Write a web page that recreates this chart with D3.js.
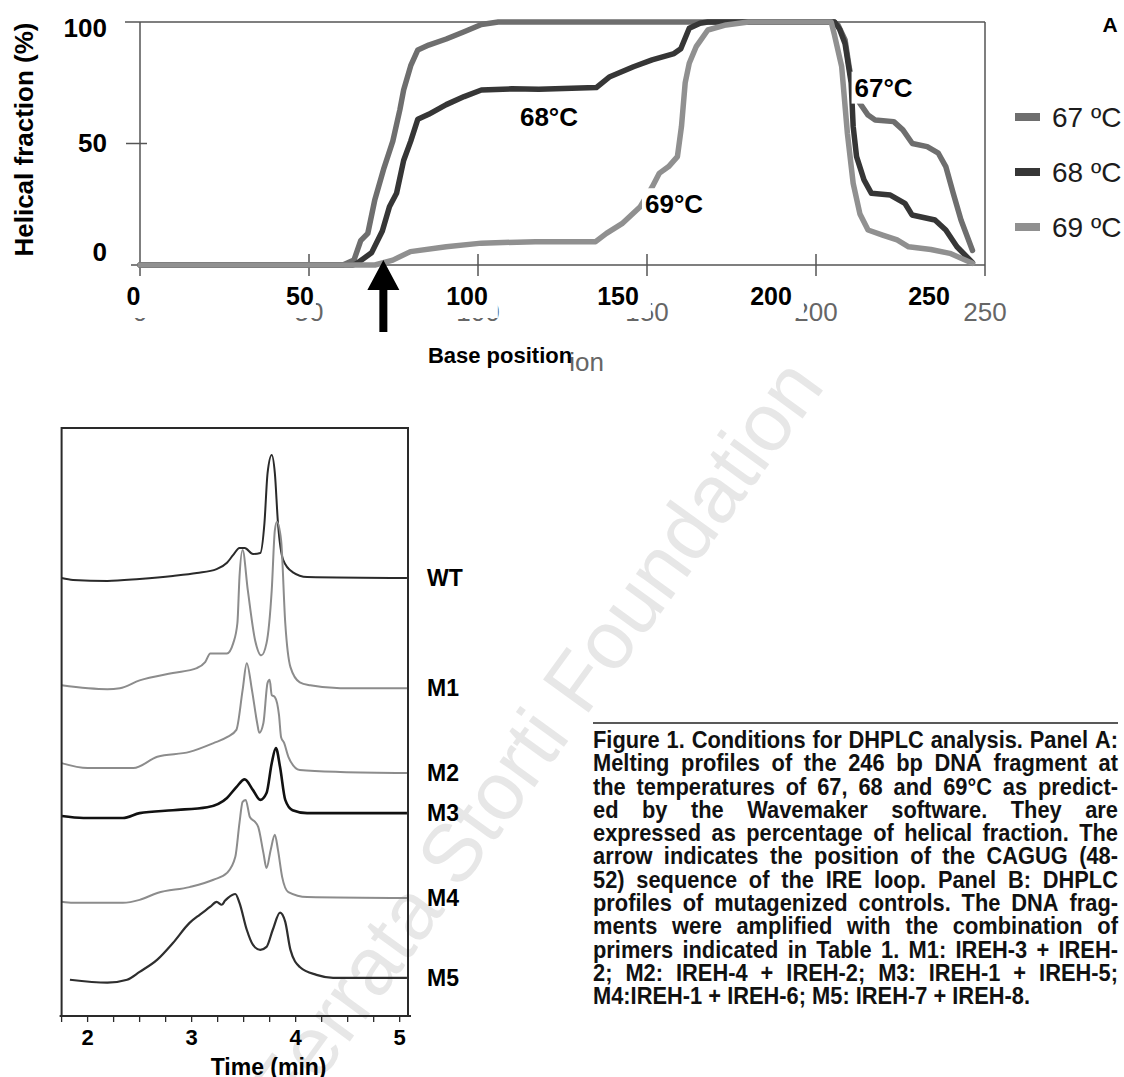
<!DOCTYPE html>
<html><head><meta charset="utf-8">
<script src="https://cdn.jsdelivr.net/npm/d3@7"></script>
<style>body{margin:0;background:#fff}svg{display:block}</style>
</head><body>
<svg id="c" width="1124" height="1077"></svg>
<script>
// ---------------- DATA ----------------
// Panel A: melting profiles (base position, helical fraction %)
const basePositionTicks = [0, 50, 100, 150, 200, 250];
const helicalTicks = [0, 50, 100];
const meltSeriesNames = ["67 ºC", "68 ºC", "69 ºC"];
const meltCurveLabels = ["67°C", "68°C", "69°C"];
const melt67 = [[0,0],[60,0],[63.3,2],[65.3,10],[67.4,13],[69.5,27],[72.2,40],[74.8,51],[76.9,64],[78,72],[80.1,82],[82.2,88.5],[85.4,90.5],[90.6,93],[95.9,96],[101,99],[106,100],[205.4,100],[206.5,98.8],[208.6,92.6],[209.8,81.6],[211,72],[213,66.5],[215.4,61.7],[217.5,59.7],[223,59],[225.7,55.6],[228.5,50],[232.9,48.7],[236.2,46],[238.4,40.5],[240.6,29.5],[242.9,18.5],[246.3,6]];
const melt68 = [[0,0],[63,0],[64,0.5],[68.5,5],[71.7,14],[73.8,24],[75.9,29.5],[78,43],[80.1,51],[82.2,60],[85.4,62],[90.6,66],[95.9,69.3],[101,72],[110,72.5],[118,72.3],[135,73],[139,77.5],[146,81.6],[151.5,84.4],[158,87],[160,89],[162.5,97.4],[165.7,99.5],[168,100],[205.5,100],[207,97],[208.6,91],[210.4,75],[211,57],[212,44.6],[214.2,35],[216.4,29.5],[222,28.8],[226.3,25.4],[228.4,20.6],[235.2,18.5],[238.4,14.4],[241.7,7.5],[246.3,1]];
const melt69 = [[0,0],[69.5,0],[74.8,2],[80,5.5],[90.6,7.5],[101,9],[117,9.6],[134.8,9.6],[138,13],[142.6,17],[148,24],[151.5,32],[153.6,37.7],[156.4,40.5],[159,44.6],[160.2,57],[161.3,75],[162.5,83],[164.6,90],[168,96.7],[173.4,98.8],[180,100],[204.5,100],[205.4,95],[207.6,81.6],[209.3,54],[211,33.6],[213,21],[215.4,14.4],[219.7,12.3],[224,10.3],[227.4,7.5],[234,6.4],[239.6,4.8],[246.3,0.7]];
// annotation anchors (base position, helical %)
const curveLabelAnchors = [[220,73],[121,61],[158,25]];
const arrowBasePosition = 72;

// Panel B: DHPLC profiles (time in min, signal a.u. above own baseline)
const timeTicks = [2, 3, 4, 5];
const traceNames = ["WT", "M1", "M2", "M3", "M4", "M5"];
const traceOffsets = [89.4, 66.9, 49.6, 41.4, 24.1, 7.8];
const traceWT = [[1.75,0],[1.86,-0.4],[2.19,-0.6],[2.5,-0.2],[2.82,0.4],[3.05,1.0],[3.24,1.8],[3.34,3.1],[3.4,4.7],[3.46,6.1],[3.51,6.1],[3.59,4.9],[3.66,5.1],[3.7,11.2],[3.73,21.4],[3.77,25.1],[3.8,21.4],[3.83,11.2],[3.88,3.7],[3.97,1.2],[4.11,0.2],[5.07,0]];
const traceM1 = [[1.75,0.6],[2.19,-0.2],[2.31,0],[2.5,1.6],[2.82,3.1],[3.05,4.1],[3.13,5.3],[3.18,7.1],[3.34,7.1],[3.4,9.2],[3.44,13.3],[3.46,22.7],[3.49,28.2],[3.54,20],[3.61,9.8],[3.67,6.7],[3.72,9.2],[3.77,20],[3.8,32.2],[3.82,33.9],[3.86,30.2],[3.9,13.3],[3.95,4.3],[4.04,1.2],[4.14,0.6],[4.43,0],[5.07,0]];
const traceM2 = [[1.75,2.0],[2.0,1.0],[2.44,1.0],[2.67,3.3],[2.98,4.3],[3.21,6.1],[3.34,7.3],[3.43,8.8],[3.49,16.9],[3.53,22.4],[3.58,16.9],[3.63,10.2],[3.65,8.2],[3.69,10.2],[3.73,18.4],[3.75,19],[3.77,15.9],[3.8,15.5],[3.84,11.8],[3.86,7.3],[3.89,6.1],[3.93,3.3],[4.04,0.6],[4.43,0.2],[5.07,0]];
const traceM3 = [[1.75,-0.6],[1.96,-1.0],[2.34,-1.0],[2.5,0],[2.82,0.6],[3.15,1.2],[3.34,3.1],[3.43,5.3],[3.51,6.9],[3.59,4.7],[3.66,2.7],[3.72,4.1],[3.77,10.2],[3.81,13.3],[3.85,9.4],[3.9,2.7],[3.97,0.6],[4.11,0],[5.07,0]];
const traceM4 = [[1.75,-0.8],[1.86,-1.0],[2.34,-1.0],[2.5,-0.4],[2.67,1.0],[2.98,2.2],[3.21,3.7],[3.34,5.1],[3.42,8.4],[3.46,15.3],[3.49,19.6],[3.52,20],[3.56,16.5],[3.61,15.5],[3.64,14.5],[3.69,9.2],[3.72,6.1],[3.76,9.8],[3.8,12.9],[3.83,9.8],[3.87,4.3],[3.93,1.2],[4.11,0.2],[5.07,0]];
const traceM5 = [[1.83,-0.4],[2.19,-1.0],[2.38,-0.4],[2.5,1.2],[2.67,3.7],[2.82,7.1],[2.98,11.2],[3.08,12.9],[3.18,14.5],[3.24,15.5],[3.29,14.9],[3.32,15.7],[3.35,16.3],[3.42,17.1],[3.46,15.3],[3.53,9.8],[3.59,6.7],[3.66,5.7],[3.72,6.3],[3.78,9.8],[3.85,13.3],[3.9,11.4],[3.95,5.7],[4.04,2.2],[4.2,0.6],[4.36,0],[5.07,0]];
const traces = [traceWT, traceM1, traceM2, traceM3, traceM4, traceM5];

const captionLines = [
  "Figure 1. Conditions for DHPLC analysis. Panel A:",
  "Melting profiles of the 246 bp DNA fragment at",
  "the temperatures of 67, 68 and 69°C as predict-",
  "ed by the Wavemaker software. They are",
  "expressed as percentage of helical fraction. The",
  "arrow indicates the position of the CAGUG (48-",
  "52) sequence of the IRE loop. Panel B: DHPLC",
  "profiles of mutagenized controls. The DNA frag-",
  "ments were amplified with the combination of",
  "primers indicated in Table 1. M1: IREH-3 + IREH-",
  "2; M2: IREH-4 + IREH-2; M3: IREH-1 + IREH-5;",
  "M4:IREH-1 + IREH-6; M5: IREH-7 + IREH-8."
];
const watermarkText = "Ferrata Storti Foundation";

// ---------------- STYLE / LAYOUT ----------------
const ARIAL = "'Liberation Sans', Arial, Helvetica, sans-serif";
const meltColors = ["#6e6e6e", "#363636", "#909090"];
const traceColors = ["#2a2a2a", "#8c8c8c", "#8c8c8c", "#111111", "#8c8c8c", "#2e2e2e"];
const traceWidths = [2, 2, 2, 2.6, 2, 2.2];
const xTickLabelNudge = [-6.5, -9, -11, -29, -45, -56];
const xTickCoverPad = [8, 2, 10, 12, 12, 10];
const yTickLabelNudge = {0: -4, 50: 8, 100: 15};

const svg = d3.select("#c");

// watermark (behind everything)
svg.append("text")
  .attr("transform", "translate(535,738) rotate(-54)")
  .attr("text-anchor", "middle").attr("dominant-baseline", "central")
  .attr("font-family", ARIAL).attr("font-size", 82).attr("fill", "#e7e7e7")
  .text(watermarkText);

// ================= PANEL A =================
const xA = d3.scaleLinear().domain([0, 250]).range([140, 985]);
const yA = d3.scaleLinear().domain([0, 100]).range([265, 22]);
const gA = svg.append("g");
const frameCol = "#555";

// original (grey) tick labels, mostly covered later
gA.selectAll("text.orig").data(basePositionTicks).join("text")
  .attr("x", d => xA(d)).attr("y", 321).attr("text-anchor", "middle")
  .attr("font-family", ARIAL).attr("font-size", 26).attr("fill", "#666").text(d => d);
gA.append("text").attr("x", 604).attr("y", 371).attr("text-anchor", "end")
  .attr("font-family", ARIAL).attr("font-size", 26).attr("fill", "#666").text("Base position");

// frame
const fr = gA.append("g").attr("stroke", frameCol).attr("stroke-width", 1.5).attr("fill", "none");
fr.append("line").attr("x1", xA(0) - 15).attr("x2", xA(250)).attr("y1", yA(100)).attr("y2", yA(100));
fr.append("line").attr("x1", xA(0) - 9).attr("x2", xA(250)).attr("y1", yA(0)).attr("y2", yA(0));
fr.append("line").attr("x1", xA(0)).attr("x2", xA(0)).attr("y1", yA(100)).attr("y2", yA(0) + 11);
fr.append("line").attr("x1", xA(250)).attr("x2", xA(250)).attr("y1", yA(100)).attr("y2", yA(0) + 11);
fr.selectAll("line.yt").data([50]).join("line").attr("class", "yt")
  .attr("x1", xA(0) - 14).attr("x2", xA(0) + 7).attr("y1", d => yA(d)).attr("y2", d => yA(d));
fr.selectAll("line.xt").data(basePositionTicks.slice(1, 5)).join("line").attr("class", "xt")
  .attr("x1", d => xA(d)).attr("x2", d => xA(d)).attr("y1", yA(0) - 11).attr("y2", yA(0) + 11);

// curves
const lineA = d3.line().x(d => xA(d[0])).y(d => yA(d[1]));
[melt67, melt68, melt69].forEach((s, i) => {
  gA.append("path").attr("d", lineA(s)).attr("fill", "none")
    .attr("stroke", meltColors[i]).attr("stroke-width", 5.5)
    .attr("stroke-linejoin", "round").attr("stroke-linecap", "round");
});

// curve labels with white boxes
const boldLbl = (g, x, y, txt, fs, anchor) => g.append("text").attr("x", x).attr("y", y)
  .attr("text-anchor", anchor || "middle").attr("font-family", ARIAL).attr("font-weight", "bold")
  .attr("font-size", fs).attr("fill", "#000").text(txt);
curveLabelAnchors.forEach((a, i) => {
  const cx = xA(a[0]), cy = yA(a[1]);
  const t = boldLbl(gA, cx, cy + 9, meltCurveLabels[i], 26);
  const bb = t.node().getBBox();
  gA.insert("rect", () => t.node()).attr("x", bb.x - 3).attr("y", bb.y - 1)
    .attr("width", bb.width + 6).attr("height", bb.height + 2).attr("fill", "#fff");
});

// arrow
const ax = xA(arrowBasePosition), ay = yA(0) - 5;
gA.append("path").attr("fill", "#000")
  .attr("d", `M${ax},${ay} L${ax + 16},${ay + 30} L${ax + 4},${ay + 30} L${ax + 4},${ay + 72} L${ax - 4},${ay + 72} L${ax - 4},${ay + 30} L${ax - 16},${ay + 30} Z`);

// bold x tick labels with covering boxes
basePositionTicks.forEach((v, i) => {
  const cx = xA(v) + xTickLabelNudge[i];
  const t = boldLbl(gA, cx, 305, v, 25);
  const bb = t.node().getBBox();
  gA.insert("rect", () => t.node()).attr("x", bb.x - 3).attr("y", 282)
    .attr("width", bb.width + 3 + xTickCoverPad[i]).attr("height", 36).attr("fill", "#fff");
});
// bold axis title with cover
{
  const t = boldLbl(gA, 500, 363, "Base position", 22);
  gA.insert("rect", () => t.node()).attr("x", 425).attr("y", 336).attr("width", 145).attr("height", 44).attr("fill", "#fff");
}
// y tick labels
helicalTicks.forEach(v => boldLbl(gA, 107, yA(v) + yTickLabelNudge[v], v, 26, "end"));
// y title
gA.append("text").attr("transform", `translate(33,${(yA(0) + yA(100)) / 2 - 4}) rotate(-90)`)
  .attr("text-anchor", "middle").attr("font-family", ARIAL).attr("font-weight", "bold")
  .attr("font-size", 26).attr("fill", "#000").text("Helical fraction (%)");
// panel letter
boldLbl(gA, 1110, 32, "A", 21);

// legend
const lg = gA.append("g");
meltSeriesNames.forEach((n, i) => {
  const cy = 117 + i * 55;
  lg.append("rect").attr("x", 1015).attr("y", cy - 4).attr("width", 25).attr("height", 8).attr("fill", meltColors[i]);
  lg.append("text").attr("x", 1052).attr("y", cy + 10).attr("font-family", ARIAL)
    .attr("font-size", 28).attr("fill", "#1c1c1c").text(n);
});

// ================= PANEL B =================
const xB = d3.scaleLinear().domain([1.75, 5.08]).range([61.6, 408]);
const yB = d3.scaleLinear().domain([0, 120]).range([1016, 428]);
const gB = svg.append("g");

const lineB = d3.line().curve(d3.curveMonotoneX);
traces.forEach((tr, i) => {
  gB.append("path")
    .attr("d", lineB(tr.map(d => [xB(d[0]), yB(traceOffsets[i] + d[1])])))
    .attr("fill", "none").attr("stroke", traceColors[i]).attr("stroke-width", traceWidths[i])
    .attr("stroke-linejoin", "round");
});

// frame
const fb = gB.append("g").attr("stroke", "#2a2a2a").attr("stroke-width", 2).attr("fill", "none");
fb.append("path").attr("d", `M${xB(1.75)},${yB(0)} V${yB(120)} H${xB(5.08)} V${yB(0)}`);
fb.append("line").attr("x1", xB(1.75) - 2).attr("x2", xB(5.08) + 3).attr("y1", yB(0)).attr("y2", yB(0));
const minor = d3.range(1.75, 5.01, 0.25);
fb.selectAll("line.t").data(minor).join("line").attr("class", "t")
  .attr("x1", d => xB(d)).attr("x2", d => xB(d)).attr("y1", yB(0)).attr("y2", yB(0) + 6)
  .attr("stroke-width", 1.3);

timeTicks.forEach(v => boldLbl(gB, xB(v), 1045, v, 22));
boldLbl(gB, xB(3.74), 1075, "Time (min)", 23);

traceNames.forEach((n, i) => boldLbl(gB, 427, yB(traceOffsets[i]) + 8, n, 23, "start"));

// ================= CAPTION =================
const capX = 593, capW = 525, capScale = 0.95, capFS = 23;
svg.append("line").attr("x1", capX).attr("x2", capX + capW).attr("y1", 723).attr("y2", 723)
  .attr("stroke", "#222").attr("stroke-width", 1.5);
const gC = svg.append("g").attr("transform", `translate(${capX},0) scale(${capScale},1)`);
const innerW = capW / capScale;
captionLines.forEach((line, li) => {
  const y = 748 + li * 23.3;
  const words = line.split(" ");
  const nodes = words.map(w => gC.append("text").attr("y", y).attr("font-family", ARIAL)
    .attr("font-weight", "bold").attr("font-size", capFS).attr("fill", "#111").text(w));
  const widths = nodes.map(n => n.node().getComputedTextLength());
  const total = d3.sum(widths);
  const last = li === captionLines.length - 1;
  const gap = last ? capFS * 0.278 : (innerW - total) / (words.length - 1);
  let x = 0;
  nodes.forEach((n, k) => { n.attr("x", x); x += widths[k] + gap; });
});
</script>
</body></html>
